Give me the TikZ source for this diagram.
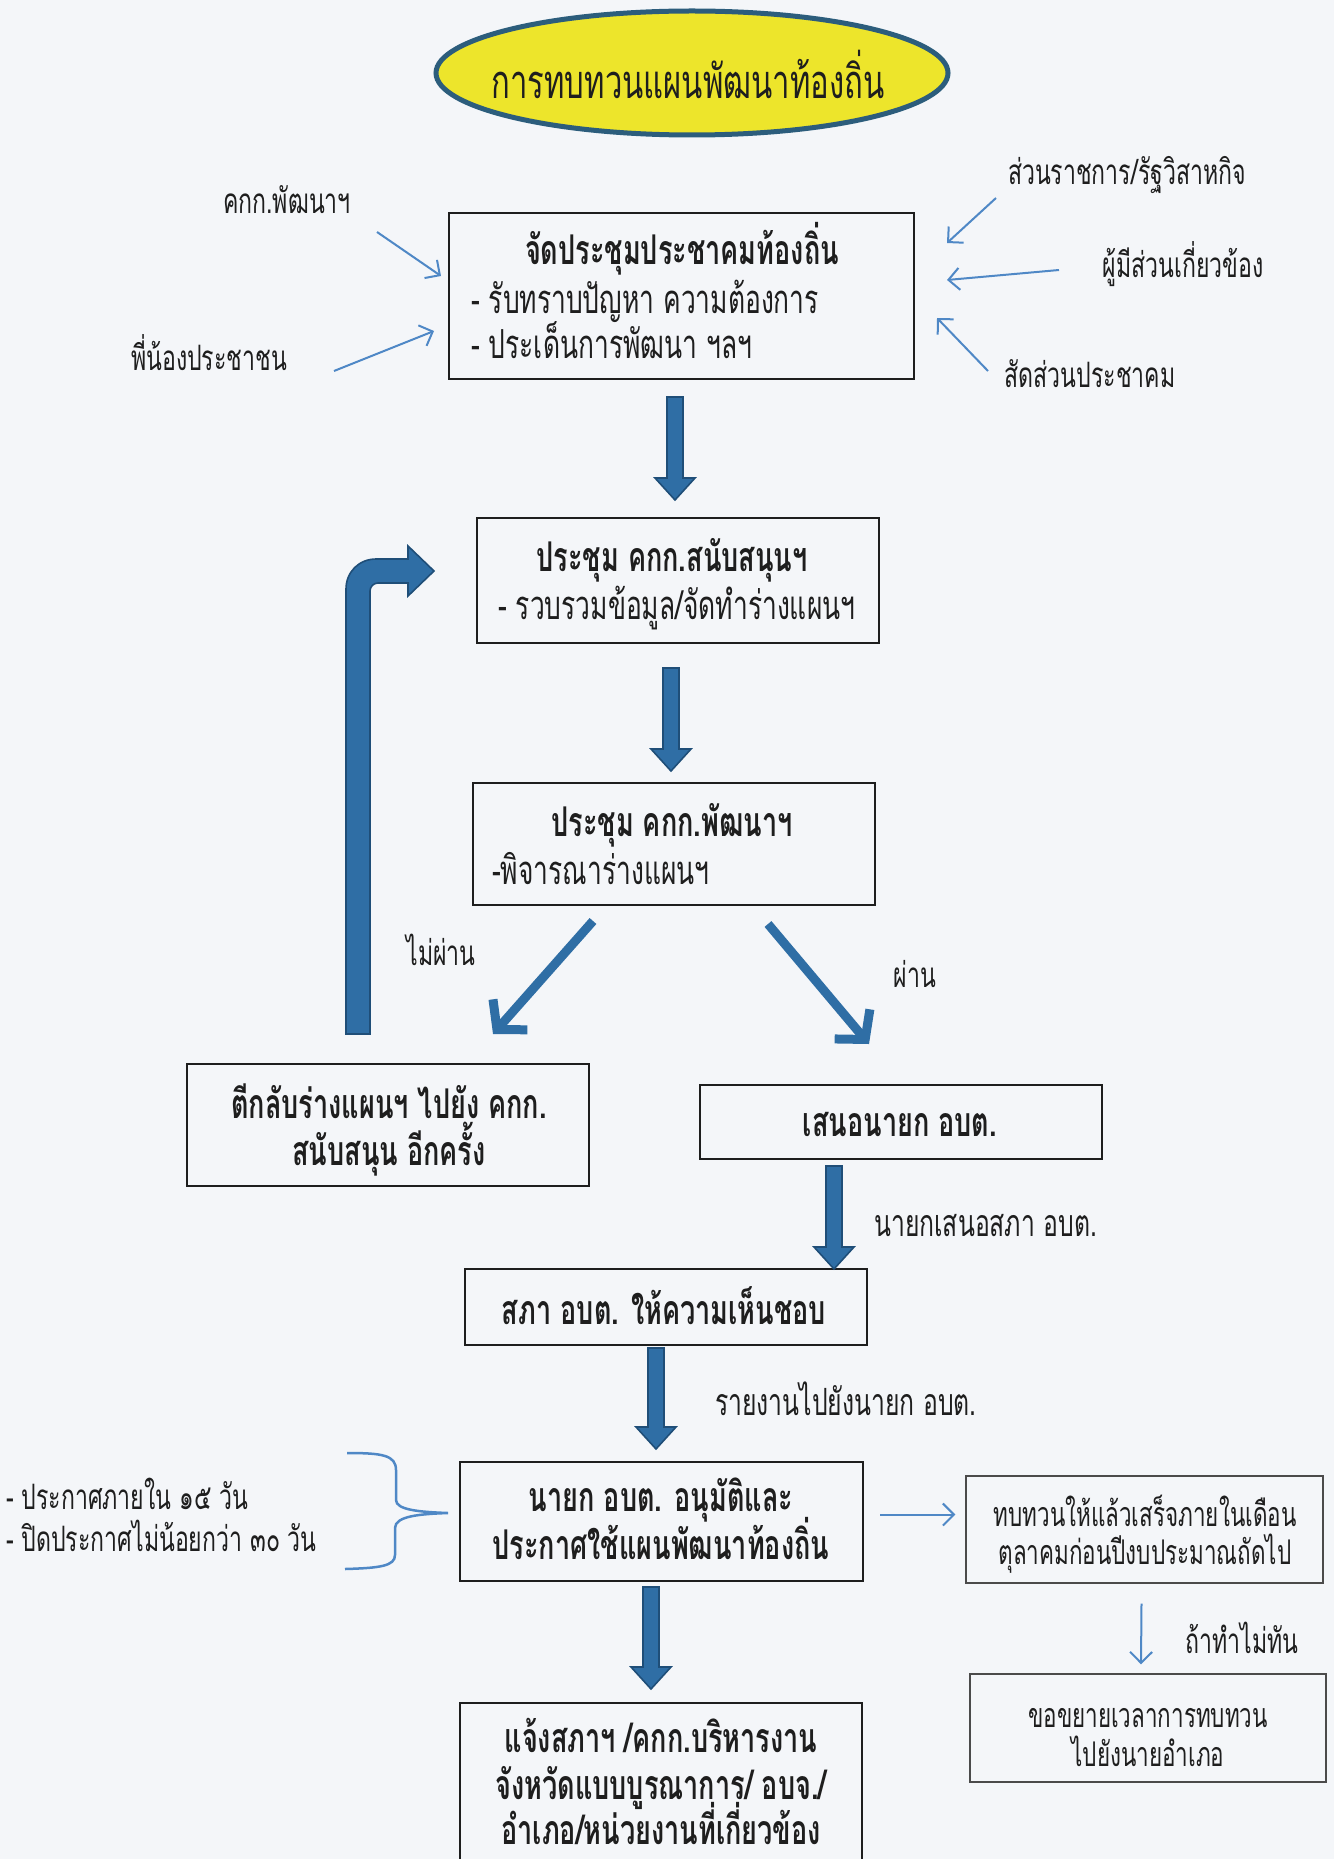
\documentclass[tikz,border=0pt]{standalone}
\usepackage{fontspec}
\usetikzlibrary{arrows.meta,calc,shapes.geometric}
\newfontfamily\thaifont[Script=Thai,FakeStretch=0.66]{Loma}
\definecolor{bgc}{HTML}{F4F6F9}
\definecolor{blk}{HTML}{1E1E1E}
\definecolor{bfill}{HTML}{2F6EA5}
\definecolor{bline}{HTML}{1F4E78}
\definecolor{thinc}{HTML}{4F88C6}
\definecolor{ellfill}{HTML}{EDE52B}
\definecolor{ellline}{HTML}{2C5D7C}
\newcommand\fs[2]{\fontsize{#1}{#2}\selectfont}
\tikzset{
  box/.style={draw=blk, line width=2pt, inner sep=0pt},
  sbox/.style={draw=blk!80, line width=1.4pt, inner sep=0pt},
  txt/.style={inner sep=0pt, text=blk, font=\thaifont, text height=20pt, text depth=0pt},
  bold/.style={txt, font=\thaifont\bfseries\fs{41}{48}},
  reg/.style={txt, font=\thaifont\fs{40}{48}},
  lab/.style={txt, font=\thaifont\fs{35}{42}},
  biglab/.style={txt, font=\thaifont\fs{37.5}{44}},
  small/.style={txt, font=\thaifont\fs{34}{40}},
  blockarrow/.style={fill=bfill, draw=bline, line width=1.6pt, line join=miter},
  thinarrow/.style={draw=thinc, line width=2pt, -{Straight Barb[length=11pt,width=22pt]}},
  diagarrow/.style={draw=bfill, line width=9pt, -{Straight Barb[length=20pt,width=46pt]}},
}
\newcommand\blockv[2]{\filldraw[blockarrow] ($(#1)+(-8,0)$) -- ($(#2)+(-8,-22)$) -- ($(#2)+(-20,-22)$) -- (#2) -- ($(#2)+(20,-22)$) -- ($(#2)+(8,-22)$) -- ($(#1)+(8,0)$) -- cycle;}
\begin{document}
\begin{tikzpicture}[x=1pt,y=-1pt]
\useasboundingbox (0,0) rectangle (1334,1859);
\clip (0,0) rectangle (1334,1859);
\fill[bgc] (0,0) rectangle (1334,1859);

% title
\node[ellipse, draw=ellline, line width=5pt, fill=ellfill, minimum width=512pt, minimum height=124pt, inner sep=0pt] (title) at (692,73) {};
\node[txt, font=\thaifont\fs{47}{56}, text height=24pt] (titletxt) at (688,87) {การทบทวนแผนพัฒนาท้องถิ่น};

% boxes
\node[box, minimum width=465pt, minimum height=166pt] (b1) at (681.5,296) {};
\node[box, minimum width=402pt, minimum height=125pt] (b2) at (678,580.5) {};
\node[box, minimum width=402pt, minimum height=122pt] (b3) at (674,844) {};
\node[box, minimum width=402pt, minimum height=122pt] (b4) at (388,1125) {};
\node[box, minimum width=402pt, minimum height=74pt] (b5) at (901,1122) {};
\node[box, minimum width=402pt, minimum height=76pt] (b6) at (666,1307) {};
\node[box, minimum width=403pt, minimum height=119pt] (b7) at (661.5,1521.5) {};
\node[sbox, minimum width=357pt, minimum height=107pt] (b8) at (1144.5,1529.5) {};
\node[sbox, minimum width=356pt, minimum height=108pt] (b9) at (1148,1728) {};
\node[box, minimum width=402pt, minimum height=172pt] (b10) at (661,1789) {};

% box texts
\node[bold] (b1t) at (682,255) {จัดประชุมประชาคมท้องถิ่น};
\node[reg, anchor=west] (b1l1) at (471,303) {- รับทราบปัญหา ความต้องการ};
\node[reg, anchor=west] (b1l2) at (471,348) {- ประเด็นการพัฒนา ฯลฯ};
\node[bold] (b2t) at (672,561) {ประชุม คกก.สนับสนุนฯ};
\node[reg, anchor=west] (b2l1) at (498,609) {- รวบรวมข้อมูล/จัดทำร่างแผนฯ};
\node[bold] (b3t) at (672,826) {ประชุม คกก.พัฒนาฯ};
\node[reg, anchor=west] (b3l1) at (492,874) {-พิจารณาร่างแผนฯ};
\node[bold] (b4t1) at (389,1108) {ตีกลับร่างแผนฯ ไปยัง คกก.};
\node[bold] (b4t2) at (389,1155) {สนับสนุน อีกครั้ง};
\node[bold] (b5t) at (900,1126) {เสนอนายก อบต.};
\node[bold] (b6t) at (664,1314) {สภา อบต. ให้ความเห็นชอบ};
\node[bold] (b7t1) at (661,1501) {นายก อบต. อนุมัติและ};
\node[bold] (b7t2) at (661,1549) {ประกาศใช้แผนพัฒนาท้องถิ่น};
\node[small] (b8t1) at (1145,1516) {ทบทวนให้แล้วเสร็จภายในเดือน};
\node[small] (b8t2) at (1145,1554) {ตุลาคมก่อนปีงบประมาณถัดไป};
\node[small] (b9t1) at (1148,1717) {ขอขยายเวลาการทบทวน};
\node[small] (b9t2) at (1148,1756) {ไปยังนายอำเภอ};
\node[bold] (b10t1) at (661,1742) {แจ้งสภาฯ /คกก.บริหารงาน};
\node[bold] (b10t2) at (661,1789) {จังหวัดแบบบูรณาการ/ อบจ./};
\node[bold] (b10t3) at (661,1834) {อำเภอ/หน่วยงานที่เกี่ยวข้อง};

% outside labels
\node[lab] (l1) at (287,204) {คกก.พัฒนาฯ};
\node[lab] (l2) at (209,360) {พี่น้องประชาชน};
\node[lab] (l3) at (1127,175) {ส่วนราชการ/รัฐวิสาหกิจ};
\node[lab] (l4) at (1183,268) {ผู้มีส่วนเกี่ยวข้อง};
\node[lab] (l5) at (1090,377) {สัดส่วนประชาคม};
\node[lab] (lno) at (441,955) {ไม่ผ่าน};
\node[lab] (lyes) at (915,977) {ผ่าน};
\node[biglab, anchor=west] (l6) at (874,1226) {นายกเสนอสภา อบต.};
\node[biglab, anchor=west] (l7) at (715,1405) {รายงานไปยังนายก อบต.};
\node[lab, anchor=west] (l8) at (6,1499) {- ประกาศภายใน ๑๕ วัน};
\node[lab, anchor=west] (l9) at (6,1541) {- ปิดประกาศไม่น้อยกว่า ๓๐ วัน};
\node[lab] (l10) at (1242,1643) {ถ้าทำไม่ทัน};

% thin arrows into box 1
\coordinate (t1s) at (377,232); \coordinate (t1e) at (441,276);
\coordinate (t2s) at (334,371); \coordinate (t2e) at (434,331);
\coordinate (t3s) at (996,198); \coordinate (t3e) at (947,243);
\coordinate (t4s) at (1059,270); \coordinate (t4e) at (947,280);
\coordinate (t5s) at (988,371); \coordinate (t5e) at (937,318);
\draw[thinarrow] (t1s) -- (t1e);
\draw[thinarrow] (t2s) -- (t2e);
\draw[thinarrow] (t3s) -- (t3e);
\draw[thinarrow] (t4s) -- (t4e);
\draw[thinarrow] (t5s) -- (t5e);
% thin arrows right side
\draw[thinarrow] ($(b7.east)+(16,-7)$) -- ($(b8.west)+(-10,-15)$);
\draw[thinarrow] ($(b8.south)+(-3,20)$) -- ($(b9.north)+(-7,-9)$);

% block arrows
\coordinate (a1s) at (675,397); \coordinate (a1e) at (675,500);
\coordinate (a2s) at (671,668); \coordinate (a2e) at (671,771);
\coordinate (a3s) at (834,1166); \coordinate (a3e) at (834,1269);
\coordinate (a4s) at (656,1348); \coordinate (a4e) at (656,1449);
\coordinate (a5s) at (651,1587); \coordinate (a5e) at (651,1689);
\blockv{a1s}{a1e}
\blockv{a2s}{a2e}
\blockv{a3s}{a3e}
\blockv{a4s}{a4e}
\blockv{a5s}{a5e}

% feedback arrow
\filldraw[blockarrow] (346,1034) -- (346,589) .. controls (346,572) and (359,559) .. (376,559) -- (408,559) -- (408,546) -- (434,571) -- (408,596) -- (408,583) -- (378,583) .. controls (373.6,583) and (370,586.6) .. (370,591) -- (370,1034) -- cycle;

% diagonal arrows
\coordinate (dl1) at (593,921); \coordinate (dl2) at (493,1034);
\coordinate (dr1) at (768,924); \coordinate (dr2) at (869,1044);
\draw[diagarrow] (dl1) -- (dl2);
\draw[diagarrow] (dr1) -- (dr2);

% brace
\draw[draw=thinc, line width=2.5pt] (347,1453) .. controls (382,1453) and (396,1455) .. (396,1470) -- (396,1500) .. controls (396,1510) and (420,1512) .. (448,1513) .. controls (420,1514) and (395,1516) .. (395,1528) -- (395,1555) .. controls (395,1566) and (380,1568) .. (345,1569);
\end{tikzpicture}
\end{document}
